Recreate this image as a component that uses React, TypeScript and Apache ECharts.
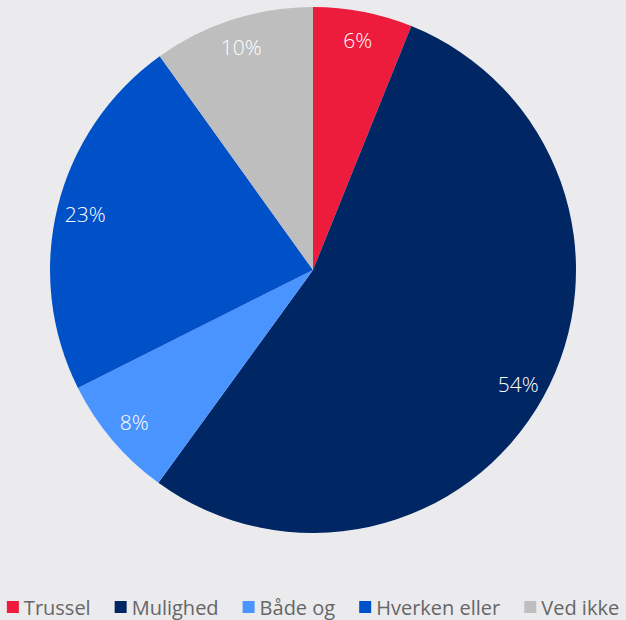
import React, { useEffect, useRef } from "react";
import * as echarts from "echarts";

const categories = ["Trussel", "Mulighed", "Både og", "Hverken eller", "Ved ikke"];
const values = [6.1, 53.9, 7.6, 22.5, 9.9];
const colors = ["#ED1B3C", "#002664", "#4A94FF", "#0051C8", "#BEBEBE"];

export default function App() {
  const ref = useRef<HTMLDivElement>(null);
  useEffect(() => {
    const chart = echarts.init(ref.current!, null, { renderer: "svg" });
    const data = categories.map((name, i) => ({ name, value: values[i] }));
    chart.setOption({
      animation: false,
      backgroundColor: "#EBEBEE",
      color: colors,
      legend: {
        bottom: -2,
        left: "center",
        itemWidth: 12,
        itemHeight: 12,
        itemGap: 24,
        icon: "rect",
        textStyle: { color: "#666", fontSize: 20, fontFamily: "Open Sans" },
        data: categories,
      },
      series: [
        {
          type: "pie",
          center: [313, 270],
          radius: 263,
          startAngle: 90,
          clockwise: true,
          label: { show: false },
          labelLine: { show: false },
          data,
        },
        {
          type: "pie",
          center: [313, 270],
          radius: [200, 263],
          startAngle: 90,
          clockwise: true,
          silent: true,
          itemStyle: { color: "transparent" },
          label: {
            show: true,
            position: "inside",
            color: "#fff",
            fontSize: 21,
            fontFamily: "Open Sans",
            fontWeight: 300,
            formatter: (p: any) => Math.round(p.value) + "%",
          },
          labelLine: { show: false },
          data,
        },
      ],
    });
    return () => chart.dispose();
  }, []);
  return <div ref={ref} style={{ position: "fixed", left: 0, top: 0, width: 626, height: 620 }} />;
}
